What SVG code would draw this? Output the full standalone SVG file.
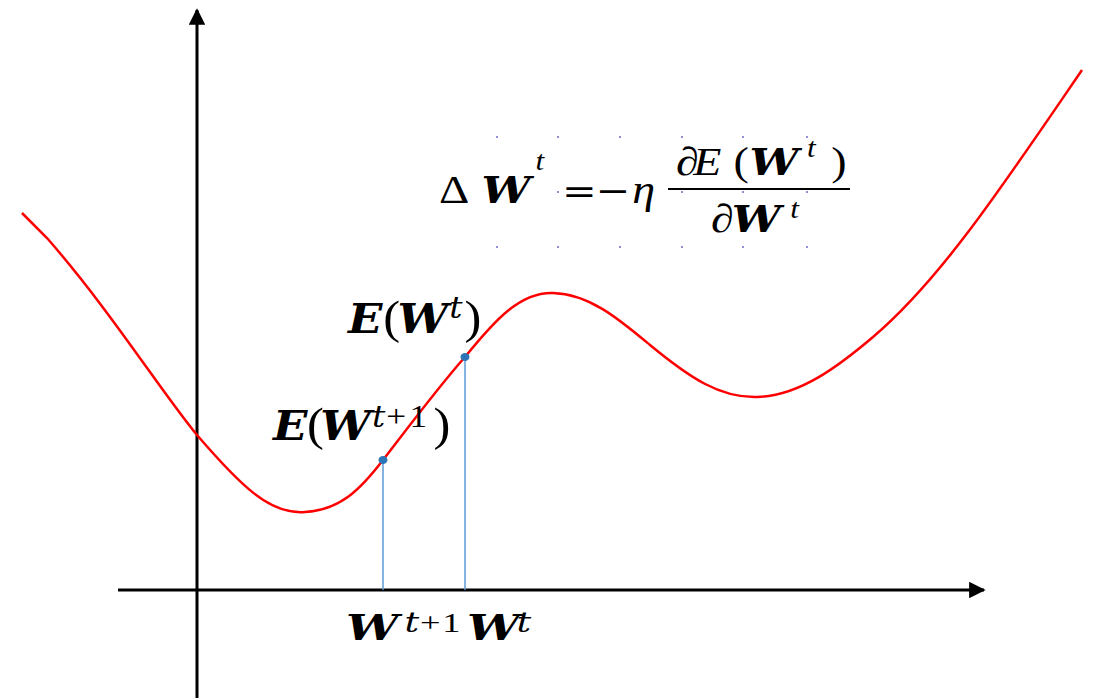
<svg xmlns="http://www.w3.org/2000/svg" width="1097" height="698" viewBox="0 0 1097 698">
<style>
.ax{stroke:#000;stroke-width:3;fill:none}
.curve{stroke:#ff0000;stroke-width:2.5;fill:none}
.drop{stroke:#5b9bd5;stroke-width:1.5}
.pt{fill:#2e75b6}
.grid{fill:#6a6ac8}
.lbl{font-family:"DejaVu Serif","Liberation Serif",serif;fill:#000}
.bi{font-weight:bold;font-style:italic}
.it{font-style:italic}
.rm{font-family:"Liberation Serif","DejaVu Serif",serif}
</style>
<defs>
<marker id="arr" viewBox="0 0 10 10" refX="9" refY="5" markerWidth="5.5" markerHeight="5.5" orient="auto" markerUnits="strokeWidth">
<path d="M0,0 L10,5 L0,10 z" fill="#000"/>
</marker>
</defs>
<rect width="1097" height="698" fill="#fff"/>
<g id="axes">
<line class="ax" x1="197" y1="698" x2="197" y2="10" marker-end="url(#arr)"/>
<line class="ax" x1="118" y1="590" x2="984" y2="590" marker-end="url(#arr)"/>
</g>
<g id="curve">
<path class="curve" d="M22,213 L47,238 C110,310 160,390 197,435 C240,485 270,515 305,512 C340,510 360,490 383,460 C410,425 440,385 465,357 C495,320 520,292 553,293 C590,294 620,320 650,345 C690,378 720,398 757,397 C800,396 840,365 873,337 C940,280 1000,190 1082,70"/>
</g>
<g id="connectors">
<line class="drop" x1="383" y1="460" x2="383" y2="590"/>
<line class="drop" x1="465" y1="357" x2="465" y2="590"/>
</g>
<g id="point-wt1"><ellipse class="pt" cx="383" cy="460" rx="4.5" ry="4"/></g>
<g id="point-wt"><ellipse class="pt" cx="465" cy="357" rx="4.5" ry="4"/></g>
<g id="label-ewt">
<text class="lbl" transform="translate(348,333) scale(1.1,1)" font-size="41"><tspan class="bi" x="0" y="0">E</tspan><tspan class="rm" x="32" font-size="46">(</tspan><tspan class="bi" x="45">W</tspan><tspan class="it" x="92" y="-15" font-size="30">t</tspan><tspan class="rm" x="106" y="0" font-size="46">)</tspan></text>
</g>
<g id="label-ewt1">
<text class="lbl" transform="translate(273,440) scale(1.1,1)" font-size="41"><tspan class="bi" x="0" y="0">E</tspan><tspan class="rm" x="31" font-size="46">(</tspan><tspan class="bi" x="43">W</tspan><tspan class="it" x="90" y="-13" font-size="30">t</tspan><tspan class="rm" x="103" font-size="32">+</tspan><tspan class="rm" x="124" font-size="32">1</tspan><tspan class="rm" x="146" y="0" font-size="46">)</tspan></text>
</g>
<g id="label-wt1">
<text class="lbl" transform="translate(346,640) scale(1.3,1)" font-size="36"><tspan class="bi" x="0" y="0">W</tspan><tspan class="it" x="45" y="-8" font-size="28">t</tspan><tspan class="rm" x="57" font-size="28">+</tspan><tspan class="rm" x="74" font-size="28">1</tspan></text>
</g>
<g id="label-wt">
<text class="lbl" transform="translate(467,640) scale(1.3,1)" font-size="36"><tspan class="bi" x="0" y="0">W</tspan><tspan class="it" x="38" y="-8" font-size="28">t</tspan></text>
</g>
<g id="formula">
<g class="grid">
<circle cx="497" cy="137" r="1"/><circle cx="558" cy="137" r="1"/><circle cx="620" cy="137" r="1"/><circle cx="682" cy="137" r="1"/><circle cx="743" cy="137" r="1"/><circle cx="807" cy="137" r="1"/>
<circle cx="558" cy="192" r="1"/><circle cx="620" cy="192" r="1"/><circle cx="682" cy="192" r="1"/><circle cx="743" cy="192" r="1"/><circle cx="807" cy="192" r="1"/>
<circle cx="497" cy="247" r="1"/><circle cx="558" cy="247" r="1"/><circle cx="620" cy="247" r="1"/><circle cx="682" cy="247" r="1"/><circle cx="743" cy="247" r="1"/><circle cx="807" cy="247" r="1"/>
</g>
<text class="lbl" transform="translate(439,203) scale(1.15,1)" font-size="38"><tspan class="rm" x="0" y="0" font-size="41">Δ</tspan><tspan class="bi" x="37">W</tspan><tspan class="it rm" x="84" y="-33" font-size="27">t</tspan><tspan x="107" y="0" font-size="36">=</tspan><tspan x="136" font-size="36">−</tspan><tspan class="it rm" x="168" font-size="40">η</tspan></text>
<line x1="668" y1="189" x2="850" y2="189" stroke="#000" stroke-width="2"/>
<text class="lbl" transform="translate(676,175) scale(1.15,1)" font-size="38"><tspan class="rm" x="0" y="0" font-size="40">∂</tspan><tspan class="it rm" x="15" font-size="40">E</tspan><tspan class="rm" x="50" font-size="40">(</tspan><tspan class="bi" x="64">W</tspan><tspan class="it rm" x="114" y="-18" font-size="27">t</tspan><tspan class="rm" x="135" y="0" font-size="40">)</tspan></text>
<text class="lbl" transform="translate(711,232) scale(1.15,1)" font-size="38"><tspan class="rm" x="0" y="0" font-size="40">∂</tspan><tspan class="bi" x="18">W</tspan><tspan class="it rm" x="69" y="-14" font-size="27">t</tspan></text>
</g>
</svg>
